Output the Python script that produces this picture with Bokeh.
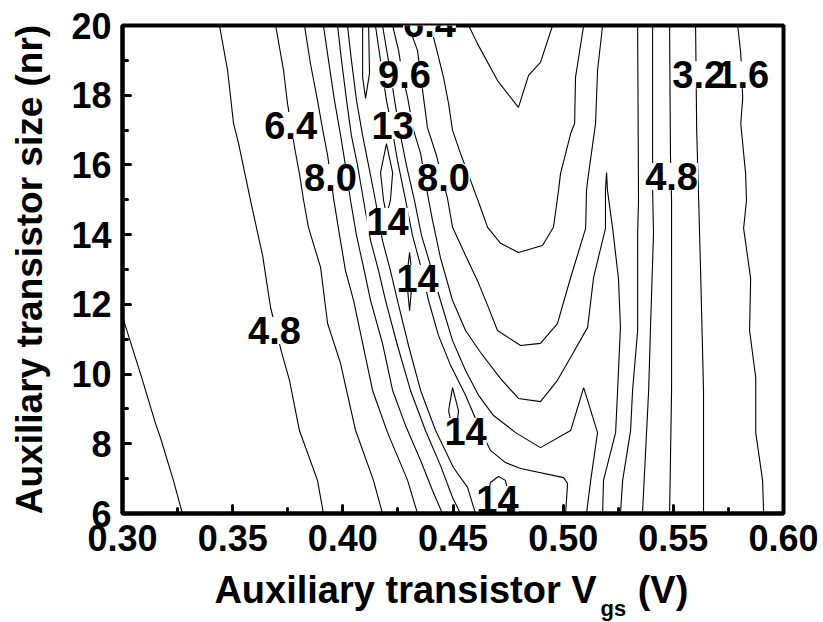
from bokeh.plotting import figure
from bokeh.layouts import column
from bokeh.models import Range1d, FixedTicker, PrintfTickFormatter, ColumnDataSource
from bokeh.core.properties import value
from bokeh.embed import file_html
from bokeh.resources import INLINE

# ---------------- contour lines (Vgs [V], nr) ----------------
# left flank of the ridge
c32_left_x = [0.3000, 0.3091, 0.3150, 0.3172, 0.3231, 0.3272]
c32_left_y = [11.65, 9.82, 8.58, 8.18, 6.95, 6.00]

c48_left_x = [0.3440, 0.3477, 0.3504, 0.3527, 0.3581, 0.3636, 0.3672, 0.3722, 0.3758, 0.3803, 0.3885, 0.3912]
c48_left_y = [20.00, 18.71, 17.19, 16.61, 14.98, 13.40, 11.91, 10.62, 9.82, 8.38, 6.95, 6.00]

c64_left_x = [0.3695, 0.3731, 0.3749, 0.3781, 0.3803, 0.3822, 0.3844, 0.3899, 0.3931, 0.3990, 0.4012, 0.4058, 0.4139, 0.4180]
c64_left_y = [20.00, 18.71, 17.76, 16.50, 15.75, 14.98, 14.21, 13.06, 11.45, 10.30, 9.67, 8.38, 6.95, 6.00]

c80_left_x = [0.3826, 0.3853, 0.3885, 0.3912, 0.3931, 0.3958, 0.3980, 0.4012, 0.4049, 0.4094, 0.4135, 0.4203, 0.4294, 0.4339]
c80_left_y = [20.00, 18.91, 17.85, 16.90, 16.27, 15.04, 14.18, 12.97, 12.11, 10.76, 9.53, 8.32, 6.95, 6.00]

c96_left_x = [0.3912, 0.3935, 0.3962, 0.3990, 0.4012, 0.4035, 0.4062, 0.4094, 0.4126, 0.4180, 0.4226, 0.4285, 0.4353, 0.4407, 0.4452]
c96_left_y = [20.00, 19.00, 17.85, 16.84, 15.98, 14.98, 13.98, 13.06, 12.11, 10.88, 9.53, 8.52, 7.52, 6.66, 6.00]

c112_left_x = [0.3976, 0.3994, 0.4017, 0.4039, 0.4067, 0.4094, 0.4126, 0.4162, 0.4194, 0.4248, 0.4307, 0.4375, 0.4443, 0.4498, 0.4534]
c112_left_y = [20.00, 19.00, 17.85, 16.84, 15.98, 14.98, 13.83, 12.97, 12.11, 10.82, 9.53, 8.38, 7.38, 6.46, 6.00]

c128_left_x = [0.4021, 0.4039, 0.4062, 0.4090, 0.4117, 0.4148, 0.4180, 0.4216, 0.4248, 0.4298, 0.4353, 0.4421, 0.4502, 0.4566, 0.4602]
c128_left_y = [20.00, 19.00, 17.85, 16.84, 15.98, 14.98, 13.83, 12.97, 12.11, 10.82, 9.53, 8.38, 7.32, 6.75, 6.00]

# small 14.4 islands along the ridge
c144_top_x = [0.4090, 0.4090, 0.4103, 0.4121, 0.4117]
c144_top_y = [20.00, 18.51, 17.91, 18.62, 20.00]
c144_a_x = [0.4198, 0.4171, 0.4185, 0.4198, 0.4216, 0.4226, 0.4198]
c144_a_y = [16.61, 15.78, 14.98, 14.55, 14.98, 15.78, 16.61]
c144_b_x = [0.4303, 0.4289, 0.4303, 0.4316, 0.4303]
c144_b_y = [13.49, 12.74, 11.82, 12.74, 13.49]
c144_c_x = [0.4480, 0.4498, 0.4525, 0.4520, 0.4489, 0.4480]
c144_c_y = [8.95, 9.61, 8.95, 8.67, 8.67, 8.95]
c144_d_x = [0.4643, 0.4670, 0.4706, 0.4738, 0.4770]
c144_d_y = [6.00, 6.89, 7.06, 6.95, 6.00]

# right flank of the ridge, valley and the 0.52 V side ridge
c128_right_x = [0.4148, 0.4171, 0.4198, 0.4221, 0.4248, 0.4285, 0.4316, 0.4353, 0.4389, 0.4434, 0.4489, 0.4557, 0.4616, 0.4670, 0.4738, 0.4807, 0.5002, 0.5020, 0.5011]
c128_right_y = [20.00, 19.00, 17.85, 17.13, 16.13, 14.98, 13.98, 13.11, 12.11, 11.11, 10.25, 9.39, 8.52, 7.81, 7.46, 7.29, 7.03, 6.86, 6.00]

c112_right_x = [0.4180, 0.4207, 0.4235, 0.4257, 0.4289, 0.4325, 0.4357, 0.4398, 0.4443, 0.4498, 0.4557, 0.4616, 0.4684, 0.4784, 0.4897, 0.5034, 0.5093, 0.5156, 0.5125, 0.5106]
c112_right_y = [20.00, 19.00, 17.85, 16.99, 15.98, 14.98, 13.98, 13.11, 12.11, 10.96, 10.10, 9.39, 8.81, 8.32, 7.89, 8.38, 9.61, 8.32, 6.95, 6.00]

c96_right_x = [0.4226, 0.4253, 0.4271, 0.4294, 0.4321, 0.4353, 0.4384, 0.4407, 0.4443, 0.4498, 0.4557, 0.4625, 0.4716, 0.4797, 0.4897, 0.4974, 0.5034, 0.5111, 0.5138, 0.5192, 0.5192, 0.5197, 0.5201, 0.5224, 0.5251, 0.5260, 0.5247, 0.5238, 0.5183, 0.5179]
c96_right_y = [20.00, 19.28, 18.57, 17.93, 16.99, 16.33, 15.18, 14.41, 13.34, 12.11, 11.25, 10.62, 9.87, 9.30, 9.21, 9.82, 10.48, 11.34, 12.77, 14.18, 15.27, 15.78, 15.27, 14.21, 12.74, 11.34, 9.53, 8.32, 6.95, 6.00]

c80_right_x = [0.4298, 0.4339, 0.4362, 0.4384, 0.4425, 0.4475, 0.4498, 0.4557, 0.4611, 0.4657, 0.4702, 0.4807, 0.4897, 0.4974, 0.5034, 0.5102, 0.5106, 0.5111, 0.5147, 0.5156, 0.5179]
c80_right_y = [20.00, 19.28, 18.14, 17.07, 16.27, 15.04, 14.21, 13.40, 12.68, 11.97, 11.25, 10.82, 10.88, 11.45, 12.77, 14.18, 15.27, 15.55, 17.19, 18.71, 20.00]

c64_right_x = [0.4398, 0.4421, 0.4457, 0.4480, 0.4498, 0.4534, 0.4580, 0.4625, 0.4657, 0.4716, 0.4797, 0.4906, 0.4956, 0.4979, 0.4988, 0.5034, 0.5052, 0.5056, 0.5093]
c64_right_y = [20.00, 19.43, 18.51, 17.76, 16.99, 16.33, 15.55, 14.78, 14.21, 13.75, 13.49, 13.69, 14.21, 15.27, 15.75, 16.90, 17.19, 18.51, 20.00]

c48_valley_x = [0.4571, 0.4611, 0.4702, 0.4797, 0.4843, 0.4897, 0.4952]
c48_valley_y = [20.00, 19.48, 18.42, 17.65, 18.57, 18.94, 20.00]

# far right descent
c80_far_x = [0.5338, 0.5342, 0.5338, 0.5338, 0.5315, 0.5306, 0.5270, 0.5260]
c80_far_y = [20.00, 14.98, 14.03, 11.25, 9.53, 8.38, 6.95, 6.00]
c64_far_x = [0.5406, 0.5406, 0.5410, 0.5397, 0.5388, 0.5360]
c64_far_y = [20.00, 15.27, 14.03, 11.45, 9.53, 6.00]
c48_far_x = [0.5483, 0.5487, 0.5492, 0.5492, 0.5483]
c48_far_y = [20.00, 16.27, 14.98, 9.53, 6.00]
c32_far_x = [0.5601, 0.5606, 0.5615, 0.5624, 0.5637, 0.5637]
c32_far_y = [20.00, 16.99, 14.98, 12.89, 9.53, 6.00]
c16_far_x = [0.5792, 0.5806, 0.5815, 0.5806, 0.5828, 0.5832, 0.5819, 0.5851, 0.5846, 0.5874, 0.5874, 0.5905, 0.5910]
c16_far_y = [20.00, 19.20, 17.93, 17.19, 15.75, 14.98, 14.18, 12.74, 11.25, 9.90, 8.32, 6.95, 6.00]

# ---------------- contour labels ----------------
label_text = ["6.4", "8.0", "9.6", "13", "8.0", "6.4", "14", "14", "4.8", "14", "14", "3.2", "1.6", "4.8"]
label_x = [0.3763, 0.3944, 0.4280, 0.4226, 0.4457, 0.4393, 0.4203, 0.4339, 0.3690, 0.4557, 0.4702, 0.5615, 0.5815, 0.5492]
label_y = [17.13, 15.64, 18.59, 17.13, 15.64, 20.06, 14.38, 12.74, 11.25, 8.35, 6.40, 18.59, 18.59, 15.67]

# ---------------- axes ----------------
x_ticks = [0.30, 0.35, 0.40, 0.45, 0.50, 0.55, 0.60]
x_minor = [0.325, 0.375, 0.425, 0.475, 0.525, 0.575]
y_ticks = [6, 8, 10, 12, 14, 16, 18, 20]
y_minor = [7, 9, 11, 13, 15, 17, 19]

FONT = "Liberation Sans"

p = figure(width=823, height=568, output_backend="svg", toolbar_location=None,
           x_range=Range1d(0.30, 0.60), y_range=Range1d(6, 20),
           min_border_left=122, min_border_right=40, min_border_top=25, min_border_bottom=55,
           background_fill_color="white", border_fill_color="white")
p.xgrid.visible = False
p.ygrid.visible = False
p.outline_line_color = "black"
p.outline_line_width = 4

lines_x = [c32_left_x, c48_left_x, c64_left_x, c80_left_x, c96_left_x, c112_left_x, c128_left_x,
           c144_top_x, c144_a_x, c144_b_x, c144_c_x, c144_d_x,
           c128_right_x, c112_right_x, c96_right_x, c80_right_x, c64_right_x, c48_valley_x,
           c80_far_x, c64_far_x, c48_far_x, c32_far_x, c16_far_x]
lines_y = [c32_left_y, c48_left_y, c64_left_y, c80_left_y, c96_left_y, c112_left_y, c128_left_y,
           c144_top_y, c144_a_y, c144_b_y, c144_c_y, c144_d_y,
           c128_right_y, c112_right_y, c96_right_y, c80_right_y, c64_right_y, c48_valley_y,
           c80_far_y, c64_far_y, c48_far_y, c32_far_y, c16_far_y]
p.multi_line(xs=lines_x, ys=lines_y, line_color="black", line_width=1.1)

src = ColumnDataSource(dict(x=label_x, y=label_y, t=label_text))
# white boxes first (gaps in the lines), then the numbers on top
p.text(x="x", y="y", text="t", source=src, text_alpha=0.0,
       background_fill_color="white", text_font=value(FONT), text_font_style="bold",
       text_font_size="38px", text_align="center", text_baseline="middle")
p.text(x="x", y="y", text="t", source=src, text_color="black",
       text_font=value(FONT), text_font_style="bold",
       text_font_size="38px", text_align="center", text_baseline="middle")

for ax in (p.xaxis[0], p.yaxis[0]):
    ax.axis_line_width = 4
    ax.major_tick_in = 8
    ax.major_tick_out = 0
    ax.minor_tick_in = 5
    ax.minor_tick_out = 0
    ax.major_tick_line_width = 3
    ax.minor_tick_line_width = 3
    ax.major_tick_line_cap = "round"
    ax.minor_tick_line_cap = "round"
    ax.major_label_text_font = FONT
    ax.major_label_text_font_style = "bold"
    ax.major_label_text_font_size = "36px"
    ax.major_label_text_color = "black"

p.xaxis.ticker = FixedTicker(ticks=x_ticks, minor_ticks=x_minor)
p.yaxis.ticker = FixedTicker(ticks=y_ticks, minor_ticks=y_minor)
p.xaxis.formatter = PrintfTickFormatter(format="%.2f")
p.yaxis.formatter = PrintfTickFormatter(format="%d")
p.xaxis.major_label_standoff = 11
p.yaxis.major_label_standoff = 11

p.yaxis.axis_label = "Auxiliary transistor size (nr)"
p.yaxis.axis_label_text_font = FONT
p.yaxis.axis_label_text_font_style = "bold"
p.yaxis.axis_label_text_font_size = "37px"
p.yaxis.axis_label_text_color = "black"
p.yaxis.axis_label_standoff = 18

# x-axis title with the subscript, drawn in a strip under the plot sharing the x scale
pt = figure(width=823, height=54, output_backend="svg", toolbar_location=None,
            x_range=p.x_range, y_range=Range1d(0, 1), x_axis_type=None, y_axis_type=None,
            min_border_left=122, min_border_right=40, min_border_top=0, min_border_bottom=0,
            outline_line_color=None, background_fill_color="white", border_fill_color="white")
pt.text(x=[0.5152], y=[0.604], text=["Auxiliary transistor V"], text_font=value(FONT),
        text_font_style="bold", text_font_size="38px", text_align="right", text_baseline="middle",
        text_color="black")
pt.text(x=[0.5170], y=[0.252], text=["gs"], text_font=value(FONT),
        text_font_style="bold", text_font_size="22px", text_align="left", text_baseline="middle",
        text_color="black")
pt.text(x=[0.5338], y=[0.604], text=["(V)"], text_font=value(FONT),
        text_font_style="bold", text_font_size="38px", text_align="left", text_baseline="middle",
        text_color="black")

open("out.html", "w").write(file_html(column(p, pt, spacing=0), INLINE))
